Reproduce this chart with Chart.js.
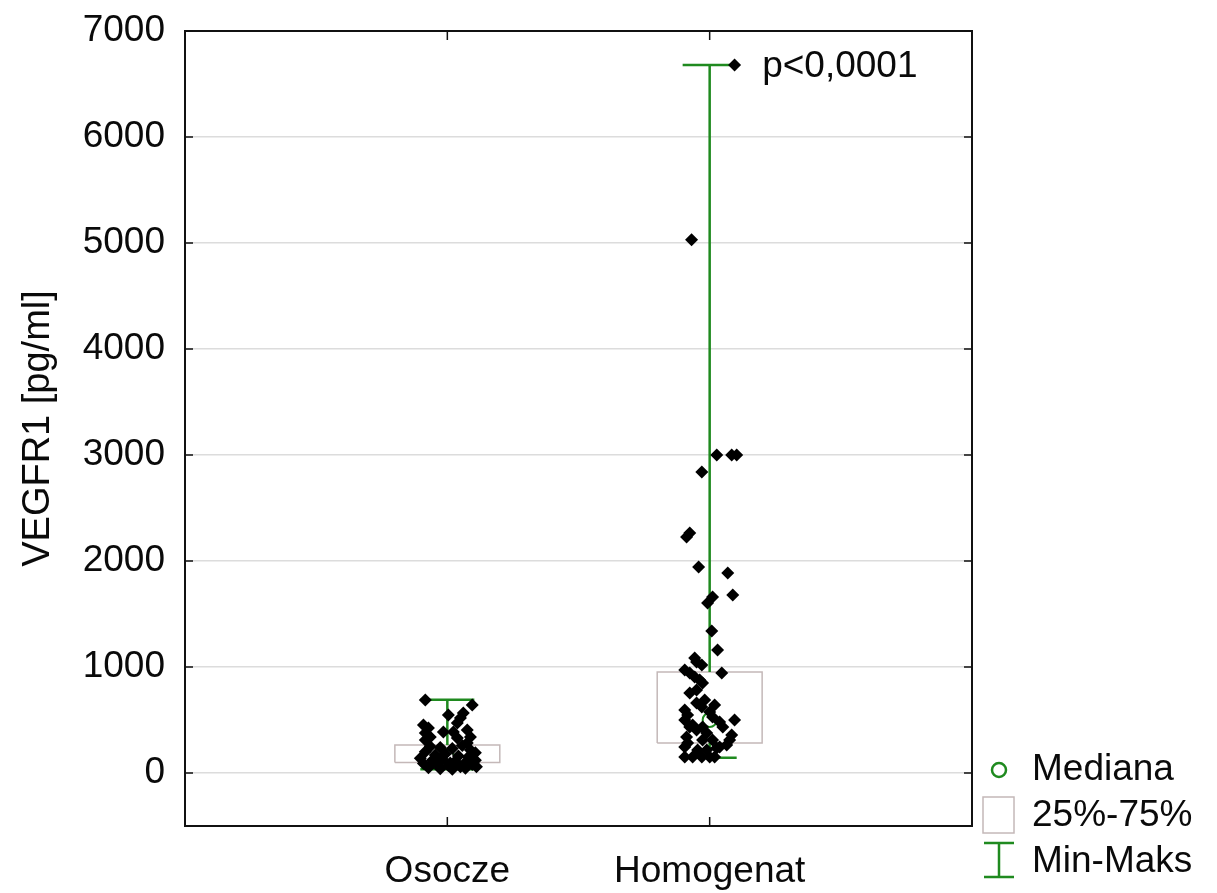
<!DOCTYPE html>
<html lang="pl">
<head>
<meta charset="UTF-8">
<title>VEGFR1</title>
<script src="https://cdn.jsdelivr.net/npm/chart.js"></script>
<style>
    body { margin: 0; background: #fff; }
    #wrap { width: 1217px; height: 893px; }
</style>
</head>
<body>
<div id="wrap"><canvas id="chart" width="1217" height="893"></canvas></div>
<script>
// categories and their position on the x axis
const categories = ['Osocze', 'Homogenat'];
const catPos = [1, 2];
const yTicks = [0, 1000, 2000, 3000, 4000, 5000, 6000, 7000];

// summary stats per category: min, q1, median, q3, max
const mins = [35, 145];
const q1s = [100, 283];
const medians = [150, 500];
const q3s = [265, 953];
const maxs = [690, 6680];

const osoczeValues = [689, 642, 566, 519, 547, 472, 453, 425, 387, 377, 340, 311, 387, 330, 406, 340, 283, 217,
    250, 240, 230, 260, 190, 200, 170, 180, 160, 150, 140, 120, 130, 110, 100, 120, 90, 80, 70, 60, 80,
    50, 40, 35, 45, 60, 100, 95];
const osoczeJitter = [-0.084, 0.095, 0.061, 0.050, 0.004, 0.038, -0.091, -0.072, -0.015, -0.084, -0.065, -0.084, 0.023, 0.038, 0.076, 0.088, 0.076, 0.088,
    -0.065, -0.027, 0.019, 0.057, 0.107, -0.084, -0.046, -0.008, 0.042, 0.080, -0.103, -0.057, -0.019, 0.030, 0.069, 0.107, -0.091, -0.038, 0.004, 0.050, 0.095,
    -0.072, -0.027, 0.019, 0.069, 0.111, -0.053, 0.011];

const homogenatValues = [6680, 5030, 3000, 3000, 3000, 2840, 2264, 2226, 1943, 1887, 1679, 1660, 1604, 1340, 1160, 1085,
    1047, 1019, 972, 943, 943, 906, 877, 849, 783, 755, 660, 623, 594, 547, 500, 575, 528, 500, 481, 434, 434, 406, 434,
    377, 358, 311, 340, 283, 245, 311, 311, 245, 217, 217, 236, 151, 151, 151, 151, 689, 642, 453, 264, 151];
const homogenatJitter = [0.095, -0.069, 0.027, 0.084, 0.103, -0.030, -0.076, -0.088, -0.042, 0.069, 0.088, 0.011, -0.008, 0.008, 0.030, -0.057,
    -0.050, -0.030, -0.095, -0.076, 0.046, -0.057, -0.038, -0.027, -0.050, -0.076, -0.050, -0.030, -0.095, -0.084, -0.095, 0.000, 0.011, 0.095, 0.038, 0.050, -0.076, -0.050, -0.027,
    -0.011, 0.084, 0.076, -0.088, -0.084, -0.095, -0.027, 0.011, 0.038, -0.046, -0.011, 0.027, -0.095, -0.065, -0.030, 0.000, -0.019, 0.019, -0.065, 0.065, 0.019];

const pLabel = 'p<0,0001';

const GREEN = '#1f8a1f';
const BOX_GRAY = '#c4b8b8';
const TEXT = '#0a0a0a';
const FONT = '"Liberation Sans", Arial, sans-serif';
const BOX_HALF = 0.2;
const CAP_HALF = 0.103;

function pointsFor(values, jitter, center) {
    return values.map((v, i) => ({ x: center + jitter[i], y: v }));
}

const datasets = [];

// raw points on top
datasets.push({
    data: pointsFor(osoczeValues, osoczeJitter, catPos[0]).concat(pointsFor(homogenatValues, homogenatJitter, catPos[1])),
    pointStyle: 'rectRot', pointRadius: 6.5, backgroundColor: '#000', borderWidth: 0, order: 0
});

// median circles
datasets.push({
    data: catPos.map((c, i) => ({ x: c, y: medians[i] })),
    pointStyle: 'circle', pointRadius: 7, backgroundColor: 'rgba(0,0,0,0)', borderColor: GREEN, borderWidth: 2, order: 1
});

catPos.forEach((c, i) => {
    // whiskers: max -> q3 and q1 -> min, plus caps
    const segs = [
        [{ x: c, y: maxs[i] }, { x: c, y: q3s[i] }],
        [{ x: c, y: q1s[i] }, { x: c, y: mins[i] }],
        [{ x: c - CAP_HALF, y: maxs[i] }, { x: c + CAP_HALF, y: maxs[i] }],
        [{ x: c - CAP_HALF, y: mins[i] }, { x: c + CAP_HALF, y: mins[i] }]
    ];
    segs.forEach(s => datasets.push({
        data: s, showLine: true, borderColor: GREEN, borderWidth: 2.5, pointRadius: 0, order: 2
    }));
    // 25%-75% box
    datasets.push({
        data: [
            { x: c - BOX_HALF, y: q1s[i] }, { x: c + BOX_HALF, y: q1s[i] },
            { x: c + BOX_HALF, y: q3s[i] }, { x: c - BOX_HALF, y: q3s[i] },
            { x: c - BOX_HALF, y: q1s[i] }
        ],
        showLine: true, borderColor: BOX_GRAY, borderWidth: 1.5, pointRadius: 0, order: 3
    });
});

// frame, inward ticks, p-value text and the legend
const decorPlugin = {
    id: 'decor',
    afterDraw(chart) {
        const ctx = chart.ctx;
        const a = chart.chartArea;
        const xs = chart.scales.x, ys = chart.scales.y;
        ctx.save();
        ctx.strokeStyle = '#111';
        ctx.lineWidth = 2;
        ctx.strokeRect(a.left, a.top, a.right - a.left, a.bottom - a.top);
        ctx.lineWidth = 1.5;
        ctx.beginPath();
        yTicks.forEach(v => {
            const y = ys.getPixelForValue(v);
            ctx.moveTo(a.left, y); ctx.lineTo(a.left + 8, y);
            ctx.moveTo(a.right, y); ctx.lineTo(a.right - 8, y);
        });
        catPos.forEach(v => {
            const x = xs.getPixelForValue(v);
            ctx.moveTo(x, a.bottom); ctx.lineTo(x, a.bottom - 9);
            ctx.moveTo(x, a.top); ctx.lineTo(x, a.top + 9);
        });
        ctx.stroke();

        // p-value next to the maximum of Homogenat
        ctx.fillStyle = TEXT;
        ctx.font = '37px ' + FONT;
        ctx.textBaseline = 'middle';
        ctx.textAlign = 'left';
        ctx.fillText(pLabel, xs.getPixelForValue(2.2), ys.getPixelForValue(maxs[1]) + 2);

        // legend
        const lx = a.right + 27;
        ctx.strokeStyle = GREEN;
        ctx.lineWidth = 2.5;
        ctx.beginPath();
        ctx.arc(lx, 770, 7, 0, Math.PI * 2);
        ctx.stroke();
        ctx.strokeStyle = BOX_GRAY;
        ctx.lineWidth = 1.5;
        ctx.strokeRect(lx - 16, 797, 31, 36);
        ctx.strokeStyle = GREEN;
        ctx.lineWidth = 2.5;
        ctx.beginPath();
        ctx.moveTo(lx - 15, 843); ctx.lineTo(lx + 15, 843);
        ctx.moveTo(lx, 843); ctx.lineTo(lx, 877);
        ctx.moveTo(lx - 15, 877); ctx.lineTo(lx + 15, 877);
        ctx.stroke();
        ctx.fillStyle = TEXT;
        ctx.fillText('Mediana', lx + 33, 770);
        ctx.fillText('25%-75%', lx + 33, 816);
        ctx.fillText('Min-Maks', lx + 33, 862);
        ctx.restore();
    }
};

new Chart(document.getElementById('chart'), {
    type: 'scatter',
    data: { datasets: datasets },
    options: {
        responsive: false,
        animation: false,
        devicePixelRatio: 1,
        layout: { padding: { top: 31, right: 245, bottom: 0, left: 0 } },
        plugins: { legend: { display: false }, tooltip: { enabled: false } },
        scales: {
            x: {
                type: 'linear', min: 0, max: 3,
                afterBuildTicks: s => { s.ticks = catPos.map(v => ({ value: v })); },
                afterFit: s => { s.height = 67; s.paddingLeft = 0; s.paddingRight = 0; },
                grid: { display: false, drawTicks: false },
                border: { display: false },
                ticks: {
                    callback: v => categories[catPos.indexOf(v)] || '',
                    font: { size: 37, family: FONT }, color: TEXT, padding: 24, maxRotation: 0
                }
            },
            y: {
                min: -500, max: 7000,
                afterBuildTicks: s => { s.ticks = yTicks.map(v => ({ value: v })); },
                afterFit: s => { s.width = 185; s.paddingTop = 0; s.paddingBottom = 0; },
                grid: { color: '#dcdcdc', lineWidth: 1.5, drawTicks: false },
                border: { display: false },
                ticks: {
                    callback: v => String(v),
                    font: { size: 37, family: FONT }, color: TEXT, padding: 20
                },
                title: {
                    display: true, text: 'VEGFR1 [pg/ml]', color: TEXT,
                    font: { size: 38, family: FONT }, padding: { top: 16, bottom: 0 }
                }
            }
        }
    },
    plugins: [decorPlugin]
});
</script>
</body>
</html>
